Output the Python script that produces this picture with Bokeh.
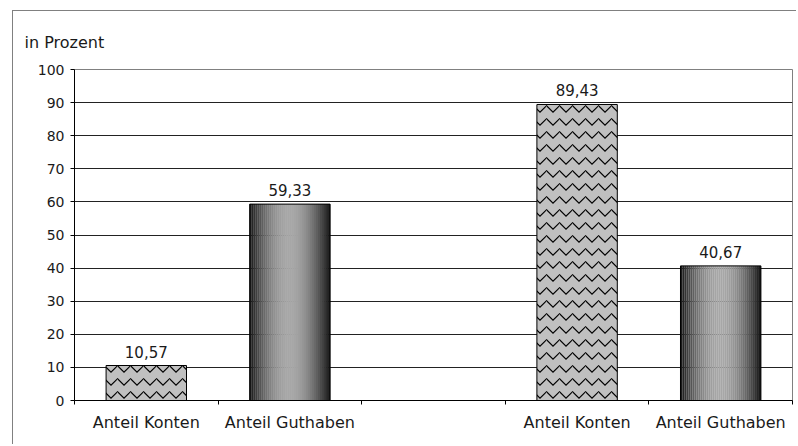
import math
from bokeh.plotting import figure
from bokeh.models import Range1d, FixedTicker, ColumnDataSource
from bokeh.core.properties import value
from bokeh.embed import file_html
from bokeh.resources import INLINE

# ---- data ----
slot_labels = ["Anteil Konten", "Anteil Guthaben", "", "Anteil Konten", "Anteil Guthaben"]
konten_slots = [0, 3]
konten_values = [10.57, 89.43]
guthaben_slots = [1, 4]
guthaben_values = [59.33, 40.67]
y_ticks = [0, 10, 20, 30, 40, 50, 60, 70, 80, 90, 100]

FONT = "DejaVu Sans"
BAR_W = 0.56
TXT = "#1a1a1a"

p = figure(width=784, height=434, output_backend="svg", toolbar_location=None,
           x_range=Range1d(0, len(slot_labels)), y_range=Range1d(0, 100),
           min_border_left=61, min_border_right=5, min_border_top=58, min_border_bottom=45)
p.styles = {"border-left": "1px solid #808080", "border-top": "1px solid #808080",
            "margin-left": "12px", "margin-top": "10px"}

p.background_fill_color = "white"
p.border_fill_color = "white"
p.outline_line_color = "#808080"
p.outline_line_width = 1

p.title.text = "in Prozent"
p.title.align = "left"
p.title.text_font = FONT
p.title.text_font_size = "16px"
p.title.text_font_style = "normal"
p.title.text_color = TXT
p.title.offset = -50
p.title.standoff = 36

# y axis
p.yaxis.ticker = FixedTicker(ticks=y_ticks)
p.yaxis.axis_line_color = "black"
p.yaxis.major_tick_line_color = "black"
p.yaxis.major_tick_out = 4
p.yaxis.major_tick_in = 0
p.yaxis.minor_tick_line_color = None
p.yaxis.major_label_standoff = 6
p.yaxis.major_label_text_font = FONT
p.yaxis.major_label_text_font_size = "14px"
p.yaxis.major_label_text_color = TXT
p.ygrid.grid_line_color = "#222222"
p.ygrid.grid_line_width = 1

# x axis: labels centered in slots, ticks at slot boundaries
centers = [i + 0.5 for i in range(len(slot_labels))]
bounds = list(range(len(slot_labels) + 1))
p.xaxis.ticker = FixedTicker(ticks=centers, minor_ticks=bounds)
p.xaxis.major_label_overrides = {c: lab for c, lab in zip(centers, slot_labels)}
p.xaxis.major_tick_line_color = None
p.xaxis.major_tick_out = 0
p.xaxis.major_tick_in = 0
p.xaxis.minor_tick_line_color = "black"
p.xaxis.minor_tick_out = 4
p.xaxis.minor_tick_in = 0
p.xaxis.axis_line_color = "black"
p.xaxis.major_label_standoff = 8
p.xaxis.major_label_text_font = FONT
p.xaxis.major_label_text_font_size = "16px"
p.xaxis.major_label_text_color = TXT
p.xgrid.grid_line_color = None

# hatched bars
kx = [s + 0.5 for s in konten_slots]
p.vbar(x=kx, top=konten_values, width=BAR_W, bottom=0,
       fill_color="#c0c0c0", line_color="black", line_width=1,
       hatch_pattern="horizontal_wave", hatch_color="black", hatch_scale=13, hatch_weight=1.2)

# gradient bars made of thin strips
gx = [s + 0.5 for s in guthaben_slots]
N = 40
xs, tops, cols = [], [], []
for cx, v in zip(gx, guthaben_values):
    for i in range(N):
        t = (i + 0.5) / N
        g = int(18 + (168 - 18) * (math.sin(math.pi * t) ** 0.9))
        xs.append(cx - BAR_W / 2 + t * BAR_W)
        tops.append(v)
        cols.append("#%02x%02x%02x" % (g, g, g))
p.vbar(x=xs, top=tops, width=BAR_W / N * 1.05, bottom=0, fill_color=cols, line_color=None)
p.vbar(x=gx, top=guthaben_values, width=BAR_W, bottom=0, fill_color=None,
       line_color="black", line_width=1)

# value labels
all_x = kx + gx
all_v = konten_values + guthaben_values
src = ColumnDataSource(dict(x=all_x, y=all_v,
                            t=[("%.2f" % v).replace(".", ",") for v in all_v]))
p.text(x="x", y="y", text="t", source=src, text_align="center", text_baseline="bottom",
       y_offset=-8, text_font=value(FONT), text_font_size="15px", text_color=TXT)

open("out.html", "w").write(file_html(p, INLINE))
